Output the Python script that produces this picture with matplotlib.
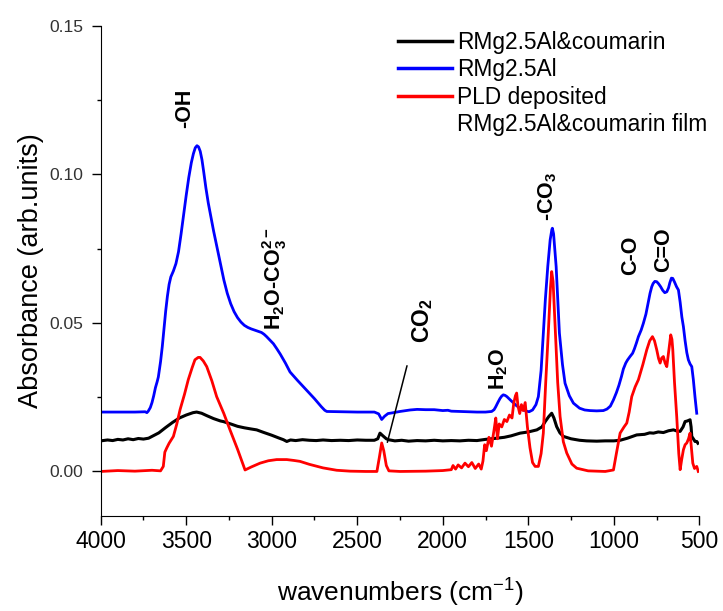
"""
FTIR spectra of RMg2.5Al, RMg2.5Al&coumarin and the PLD deposited film.

Usage:
    python plot.py
"""
import matplotlib
matplotlib.use("Agg")
import matplotlib.pyplot as plt
from matplotlib.lines import Line2D
from matplotlib.ticker import MultipleLocator

plt.rcParams["font.family"] = ["Liberation Sans", "DejaVu Sans"]
plt.rcParams["mathtext.default"] = "regular"

# RMg2.5Al&coumarin (black)
wn_coumarin = [4000, 3960, 3930, 3900, 3870, 3840, 3810, 3780, 3750, 3720, 3700, 3660,
               3620, 3580, 3540, 3500, 3460, 3439, 3410, 3380, 3340, 3300, 3283, 3240,
               3200, 3160, 3120, 3088, 3050, 3000, 2960, 2932, 2912, 2890, 2860, 2820,
               2780, 2740, 2700, 2650, 2600, 2550, 2500, 2450, 2400, 2380, 2367, 2350,
               2330, 2318, 2280, 2240, 2200, 2150, 2100, 2050, 2000, 1950, 1900, 1850,
               1800, 1750, 1700, 1684, 1640, 1600, 1548, 1500, 1450, 1420, 1401, 1380,
               1363, 1350, 1334, 1315, 1295, 1250, 1200, 1159, 1100, 1050, 1000, 963,
               920, 866, 820, 790, 768, 740, 710, 680, 651, 630, 612, 595, 583, 570,
               554, 548, 544, 535, 525, 515, 508]
abs_coumarin = [0.0103, 0.0106, 0.0104, 0.0108, 0.0106, 0.0110, 0.0107, 0.0111, 0.0109,
                0.0112, 0.0118, 0.0130, 0.0148, 0.0165, 0.0180, 0.0190, 0.0198, 0.0200,
                0.0196, 0.0188, 0.0178, 0.0170, 0.0168, 0.0160, 0.0152, 0.0147, 0.0143,
                0.0140, 0.0132, 0.0122, 0.0113, 0.0107, 0.0101, 0.0106, 0.0104, 0.0107,
                0.0105, 0.0104, 0.0106, 0.0104, 0.0105, 0.0104, 0.0106, 0.0105, 0.0105,
                0.0110, 0.0129, 0.0120, 0.0110, 0.0107, 0.0103, 0.0105, 0.0102, 0.0104,
                0.0103, 0.0105, 0.0103, 0.0104, 0.0103, 0.0105, 0.0104, 0.0108, 0.0111,
                0.0112, 0.0115, 0.0120, 0.0129, 0.0133, 0.0140, 0.0150, 0.0168, 0.0185,
                0.0196, 0.0180, 0.0151, 0.0130, 0.0118, 0.0110, 0.0105, 0.0103, 0.0102,
                0.0103, 0.0103, 0.0105, 0.0112, 0.0123, 0.0125, 0.0130, 0.0129, 0.0133,
                0.0131, 0.0137, 0.0140, 0.0136, 0.0135, 0.0150, 0.0168, 0.0170, 0.0174,
                0.0150, 0.0118, 0.0110, 0.0101, 0.0101, 0.0095]

# RMg2.5Al (blue)
wn_ldh = [4000, 3900, 3800, 3740, 3730, 3722, 3710, 3700, 3690, 3680,
          3670, 3663, 3650, 3640, 3630, 3620, 3610, 3600, 3590, 3575,
          3560, 3545, 3530, 3515, 3500, 3485, 3470, 3458, 3447, 3437,
          3428, 3418, 3408, 3398, 3385, 3371, 3355, 3340, 3322, 3300,
          3280, 3260, 3240, 3220, 3200, 3180, 3160, 3140, 3120, 3100,
          3080, 3060, 3045, 3030, 3010, 2990, 2970, 2950, 2920, 2893,
          2850, 2800, 2750, 2710, 2690, 2678, 2600, 2500, 2400, 2375,
          2357, 2340, 2320, 2298, 2250, 2191, 2150, 2100, 2050, 2000,
          1970, 1950, 1900, 1850, 1800, 1750, 1714, 1700, 1690, 1678,
          1665, 1655, 1646, 1635, 1625, 1600, 1570, 1540, 1510, 1495,
          1475, 1455, 1441, 1425, 1412, 1400, 1386, 1372, 1362, 1359,
          1352, 1345, 1337, 1318, 1300, 1285, 1260, 1236, 1200, 1170,
          1139, 1100, 1061, 1040, 1020, 1002, 985, 970, 955, 944,
          930, 920, 905, 890, 880, 868, 856, 840, 827, 812,
          800, 788, 778, 770, 760, 749, 738, 726, 714, 702,
          690, 680, 672, 663, 655, 645, 633, 622, 612, 602,
          593, 583, 573, 564, 554, 544, 535, 525, 515]
abs_ldh = [0.0200, 0.0200, 0.0200, 0.0201, 0.0198, 0.0203, 0.0215, 0.0232, 0.0255, 0.0282,
           0.0302, 0.0318, 0.0370, 0.0420, 0.0480, 0.0540, 0.0590, 0.0630, 0.0655, 0.0675,
           0.0700, 0.0740, 0.0800, 0.0865, 0.0930, 0.0990, 0.1040, 0.1070, 0.1090, 0.1097,
           0.1093, 0.1078, 0.1050, 0.1010, 0.0955, 0.0904, 0.0855, 0.0810, 0.0760, 0.0700,
           0.0645, 0.0600, 0.0565, 0.0538, 0.0518, 0.0503, 0.0492, 0.0485, 0.0480, 0.0476,
           0.0472, 0.0468, 0.0462, 0.0454, 0.0442, 0.0430, 0.0413, 0.0395, 0.0365, 0.0335,
           0.0307, 0.0276, 0.0245, 0.0218, 0.0206, 0.0202, 0.0201, 0.0200, 0.0200, 0.0194,
           0.0175, 0.0186, 0.0195, 0.0197, 0.0202, 0.0207, 0.0209, 0.0208, 0.0208, 0.0205,
           0.0206, 0.0203, 0.0202, 0.0201, 0.0200, 0.0200, 0.0202, 0.0208, 0.0218, 0.0232,
           0.0246, 0.0254, 0.0258, 0.0256, 0.0252, 0.0238, 0.0222, 0.0210, 0.0203, 0.0201,
           0.0207, 0.0225, 0.0252, 0.0340, 0.0466, 0.0580, 0.0690, 0.0780, 0.0815, 0.0819,
           0.0800, 0.0750, 0.0690, 0.0466, 0.0360, 0.0297, 0.0255, 0.0230, 0.0213, 0.0207,
           0.0205, 0.0204, 0.0205, 0.0210, 0.0220, 0.0241, 0.0265, 0.0290, 0.0320, 0.0345,
           0.0365, 0.0375, 0.0387, 0.0398, 0.0412, 0.0432, 0.0454, 0.0476, 0.0499, 0.0530,
           0.0565, 0.0600, 0.0622, 0.0633, 0.0640, 0.0639, 0.0632, 0.0622, 0.0610, 0.0602,
           0.0605, 0.0618, 0.0636, 0.0651, 0.0650, 0.0638, 0.0622, 0.0611, 0.0570, 0.0520,
           0.0488, 0.0440, 0.0400, 0.0376, 0.0362, 0.0353, 0.0310, 0.0250, 0.0196]

# PLD deposited RMg2.5Al&coumarin film (red)
wn_film = [4000, 3900, 3800, 3700, 3650, 3634, 3625, 3614, 3600, 3575, 3555, 3536, 3510,
           3488, 3465, 3449, 3430, 3419, 3400, 3380, 3350, 3322, 3280, 3244, 3200, 3156,
           3120, 3068, 3020, 2971, 2912, 2870, 2835, 2780, 2700, 2620, 2542, 2450, 2385,
           2370, 2357, 2345, 2330, 2315, 2250, 2100, 2000, 1950, 1940, 1925, 1910, 1890,
           1870, 1850, 1830, 1810, 1790, 1775, 1765, 1755, 1745, 1730, 1715, 1700, 1690,
           1680, 1670, 1655, 1640, 1625, 1610, 1595, 1585, 1575, 1568, 1560, 1550, 1540,
           1530, 1518, 1505, 1490, 1475, 1460, 1441, 1425, 1412, 1398, 1383, 1370, 1363,
           1355, 1341, 1328, 1314, 1295, 1275, 1245, 1217, 1150, 1050, 1002, 985, 963,
           940, 924, 910, 895, 875, 856, 830, 807, 790, 774, 762, 749, 738, 729, 720,
           710, 700, 690, 680, 667, 660, 655, 645, 632, 620, 612, 603, 593, 583, 573,
           563, 554, 546, 538, 528, 515, 506]
abs_film = [0.0000, 0.0003, 0.0001, 0.0004, 0.0002, 0.0017, 0.0065, 0.0079, 0.0095, 0.0118,
            0.0160, 0.0208, 0.0260, 0.0309, 0.0350, 0.0376, 0.0384, 0.0384, 0.0372, 0.0353,
            0.0305, 0.0252, 0.0195, 0.0140, 0.0075, 0.0005, 0.0015, 0.0028, 0.0036, 0.0040,
            0.0040, 0.0037, 0.0034, 0.0024, 0.0012, 0.0004, 0.0001, 0.0000, 0.0000, 0.0050,
            0.0096, 0.0070, 0.0020, 0.0002, 0.0000, 0.0001, 0.0003, 0.0006, 0.0020, 0.0008,
            0.0022, 0.0012, 0.0028, 0.0016, 0.0030, 0.0010, 0.0025, 0.0008, 0.0035, 0.0090,
            0.0070, 0.0115, 0.0085, 0.0140, 0.0180, 0.0110, 0.0160, 0.0150, 0.0175, 0.0168,
            0.0190, 0.0180, 0.0230, 0.0255, 0.0264, 0.0220, 0.0195, 0.0225, 0.0205, 0.0232,
            0.0150, 0.0080, 0.0030, 0.0017, 0.0017, 0.0060, 0.0129, 0.0300, 0.0466, 0.0620,
            0.0673, 0.0640, 0.0466, 0.0300, 0.0185, 0.0100, 0.0062, 0.0025, 0.0011, 0.0002,
            0.0000, 0.0005, 0.0060, 0.0129, 0.0150, 0.0163, 0.0200, 0.0252, 0.0285, 0.0309,
            0.0360, 0.0410, 0.0440, 0.0454, 0.0440, 0.0410, 0.0380, 0.0365, 0.0382, 0.0387,
            0.0365, 0.0353, 0.0400, 0.0460, 0.0445, 0.0410, 0.0300, 0.0185, 0.0060, 0.0006,
            0.0040, 0.0073, 0.0090, 0.0096, 0.0110, 0.0129, 0.0080, 0.0028, 0.0010, 0.0017,
            0.0000]

series_labels = ["RMg2.5Al&coumarin", "RMg2.5Al", "PLD deposited", "RMg2.5Al&coumarin film"]

# band assignments: text, wavenumber, absorbance at the foot of the label, size
band_labels = ["-OH", "H$_2$O-CO$_3^{2-}$", "CO$_2$", "H$_2$O", "-CO$_3$", "C-O", "C=O"]
band_wn = [3507, 2984, 2118, 1674, 1385, 903, 709]
band_abs = [0.1157, 0.0477, 0.0433, 0.0275, 0.0845, 0.0662, 0.0673]
band_size = [15.5, 15.5, 16.5, 15.5, 15.5, 15.5, 15.5]


def draw_spectra(ax):
    """Plots the three spectra."""
    ax.plot(wn_coumarin, abs_coumarin, color="black", lw=2.2)
    ax.plot(wn_ldh, abs_ldh, color="#0000ff", lw=2.0)
    ax.plot(wn_film, abs_film, color="#ff0000", lw=2.0)


def draw_bands(ax):
    """Writes the band assignments above the peaks."""
    for text, x, y, size in zip(band_labels, band_wn, band_abs, band_size):
        ax.text(x, y, text, rotation=90, ha="center", va="bottom",
                fontsize=size, fontweight="bold")
    # pointer from the CO2 label down to the 2350 cm-1 doublet
    ax.annotate("", xy=(2328, 0.0089), xytext=(2205, 0.0365),
                arrowprops=dict(arrowstyle="-", color="black", lw=1.1))


def style_axes(ax):
    """Axis limits, ticks and labels."""
    ax.set_xlim(4000, 500)
    ax.set_ylim(-0.015, 0.15)
    ax.spines["top"].set_visible(False)
    ax.spines["right"].set_visible(False)
    ax.xaxis.set_major_locator(MultipleLocator(500))
    ax.xaxis.set_minor_locator(MultipleLocator(250))
    ax.yaxis.set_major_locator(MultipleLocator(0.05))
    ax.yaxis.set_minor_locator(MultipleLocator(0.025))
    ax.yaxis.set_major_formatter(plt.FormatStrFormatter("%.2f"))
    ax.tick_params(axis="both", which="major", direction="out", length=6.5, width=1)
    ax.tick_params(axis="both", which="minor", direction="out", length=3, width=1)
    ax.tick_params(axis="x", which="major", labelsize=16.5, pad=3.5)
    ax.tick_params(axis="y", which="major", labelsize=12.6, pad=6, labelcolor="#333333")
    ax.set_xlabel("wavenumbers (cm$^{-1}$)", fontsize=19)
    ax.set_ylabel("Absorbance (arb.units)", fontsize=19.5)
    ax.xaxis.set_label_coords(0.5, -0.125)
    ax.yaxis.set_label_coords(-0.095, 0.5)


def add_legend(fig, ax):
    """Legend in the upper right; the second line of the film label has no handle."""
    handles = [Line2D([], [], color="black", lw=2.5),
               Line2D([], [], color="#0000ff", lw=2.5),
               Line2D([], [], color="#ff0000", lw=2.5),
               Line2D([], [], color="none")]
    ax.legend(handles, series_labels, loc="upper left",
              bbox_to_anchor=(398 / 723, 1 - 30.5 / 611), bbox_transform=fig.transFigure,
              frameon=False, fontsize=16.4, handlelength=2.35, handletextpad=0.25,
              labelspacing=0.2, borderpad=0, borderaxespad=0)


def main():
    fig = plt.figure(figsize=(7.23, 6.11), dpi=100)
    ax = fig.add_axes([100.7 / 723, 1 - 516 / 611, 598.6 / 723, 490 / 611])
    draw_spectra(ax)
    draw_bands(ax)
    style_axes(ax)
    add_legend(fig, ax)
    fig.savefig("out.png", dpi=100)


if __name__ == "__main__":
    main()
